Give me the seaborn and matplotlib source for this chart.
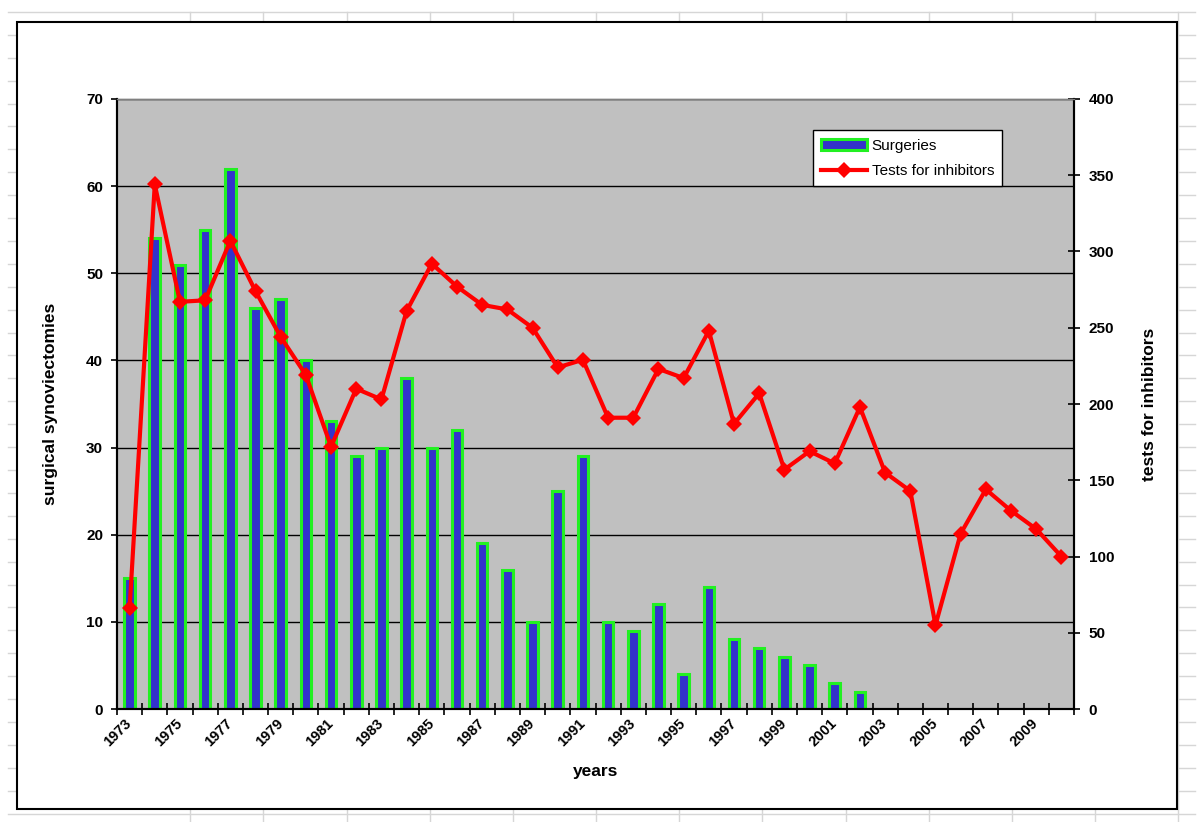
import numpy as np
import pandas as pd
import matplotlib
matplotlib.use('Agg')
import matplotlib.pyplot as plt
from matplotlib.lines import Line2D
from matplotlib.patches import Rectangle
import seaborn as sns

plt.rcParams['font.family'] = ['Liberation Sans', 'DejaVu Sans']

years = list(range(1973, 2011))
surgeries = [15, 54, 51, 55, 62, 46, 47, 40, 33, 29, 30, 38, 30, 32, 19, 16, 10, 25, 29, 10,
             9, 12, 4, 14, 8, 7, 6, 5, 3, 2, None, None, None, None, None, None, None, None]
tests = [66, 344, 267, 268, 307, 274, 244, 219, 172, 210, 203, 261, 292, 277, 265, 262, 250,
         224, 229, 191, 191, 223, 217, 248, 187, 207, 157, 169, 161, 198, 155, 143, 55, 115,
         144, 130, 118, 100]
year_labels = [str(y) for y in years]

df = pd.DataFrame({'year': year_labels,
                   'surgeries': pd.array(surgeries, dtype='Float64').astype(float),
                   'tests': tests})
df['pos'] = np.arange(len(df))

fig = plt.figure(figsize=(12, 8.22), dpi=100)

# spreadsheet cells behind the chart object
for k in range(36):
    y = 1 - (12 + k * 22.9) / 822
    fig.add_artist(Line2D([8 / 1200, 1195 / 1200], [y, y], color='#d6d6d6', lw=1, zorder=-3))
for x in [190, 263, 347, 430, 513, 596, 679, 762, 846, 929, 1012, 1095, 1178]:
    fig.add_artist(Line2D([x / 1200] * 2, [0, 1 - 12 / 822], color='#d6d6d6', lw=1, zorder=-3))
fig.add_artist(Rectangle((17 / 1200, 1 - 809 / 822), 1160 / 1200, 787 / 822,
                         facecolor='white', edgecolor='black', lw=1.5, zorder=-2))

ax = fig.add_axes([117 / 1200, 1 - 709 / 822, 957 / 1200, 610 / 822])
ax.set_facecolor('#c0c0c0')
sns.barplot(data=df, x='year', y='surgeries', order=year_labels, ax=ax,
            color='#3333cc', edgecolor='#22f022', linewidth=2.2, width=0.42,
            saturation=1, errorbar=None, label='Surgeries')
ax.set_ylim(0, 70)
ax.set_yticks(range(0, 71, 10))
ax.set_xlim(-0.5, len(years) - 0.5)
ax.yaxis.grid(True, color='black', lw=1)
ax.set_axisbelow(True)

ax2 = ax.twinx()
sns.lineplot(data=df, x='pos', y='tests', ax=ax2, color='red', lw=3, marker='D',
             markersize=8.5, markeredgewidth=0, label='Tests for inhibitors')
ax2.set_ylim(0, 400)
ax2.set_yticks(range(0, 401, 50))
ax2.set_xlim(-0.5, len(years) - 0.5)

# x ticks: marks between categories, labels on every other year
ax.set_xticks(np.arange(-0.5, len(years), 1))
ax.set_xticklabels([])
ax.set_xticks(np.arange(0, len(years), 2), year_labels[::2], minor=True)
ax.tick_params(axis='x', which='major', direction='inout', length=8, width=1.2, color='black')
ax.tick_params(axis='x', which='minor', length=0, pad=9, labelsize=10.5)
for lbl in ax.get_xticklabels(minor=True):
    lbl.set_rotation(45)
    lbl.set_ha('right')
    lbl.set_va('center')
    lbl.set_rotation_mode('anchor')
    lbl.set_fontweight('bold')

ax.tick_params(axis='y', direction='out', length=4, width=1.2, labelsize=11, pad=6)
ax2.tick_params(axis='y', direction='inout', length=9, width=1.2, labelsize=11, pad=6)
for lbl in ax.get_yticklabels() + ax2.get_yticklabels():
    lbl.set_fontweight('bold')

for a in (ax, ax2):
    a.spines['top'].set_color('#808080')
    a.spines['top'].set_linewidth(1)
    for s in ('left', 'right', 'bottom'):
        a.spines[s].set_color('black')
        a.spines[s].set_linewidth(1.5)

ax.set_xlabel('years', fontsize=12.5, fontweight='bold', va='center')
ax.xaxis.set_label_coords(0.5, -0.103)
ax.set_ylabel('surgical synoviectomies', fontsize=12.5, fontweight='bold')
ax.yaxis.set_label_coords(-0.070, 0.5)
ax.yaxis.label.set_va('center')
ax2.set_ylabel('tests for inhibitors', fontsize=12.5, fontweight='bold')
ax2.yaxis.set_label_coords(1.079, 0.5)
ax2.yaxis.label.set_va('center')

h1, l1 = ax.get_legend_handles_labels()
h2, l2 = ax2.get_legend_handles_labels()
if ax.get_legend() is not None:
    ax.get_legend().remove()
ax2.legend(h1 + h2, l1 + l2, loc='upper left', bbox_to_anchor=(0.727, 0.949),
           borderaxespad=0, fancybox=False, framealpha=1, edgecolor='black',
           fontsize=11, handlelength=3.0, borderpad=0.55, labelspacing=0.75,
           handletextpad=0.3)
ax2.get_legend().get_frame().set_linewidth(1)

fig.savefig('out.png', dpi=100)
